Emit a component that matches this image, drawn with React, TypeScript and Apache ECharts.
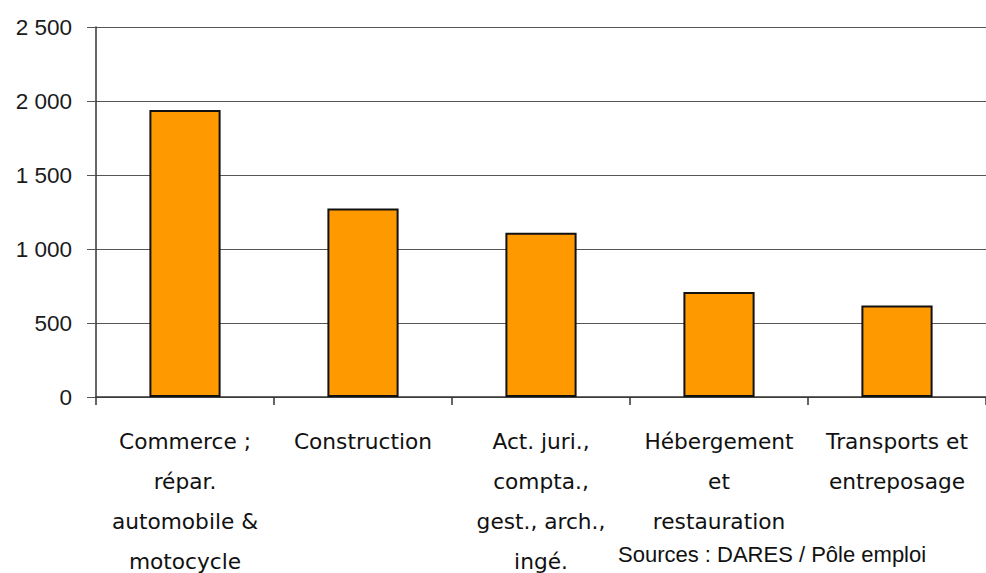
import React, { useEffect, useRef } from "react";
import * as echarts from "echarts";

const categories = [
  "Commerce ;\nrépar.\nautomobile &\nmotocycle",
  "Construction",
  "Act. juri.,\ncompta.,\ngest., arch.,\ningé.",
  "Hébergement\net\nrestauration",
  "Transports et\nentreposage",
];
const values = [1940, 1274, 1110, 710, 618];
const yTicks = { min: 0, max: 2500, interval: 500 };
const sourceText = "Sources : DARES / Pôle emploi";

function fmt(v: number): string {
  return String(v).replace(/\B(?=(\d{3})+(?!\d))/g, " ");
}

export default function App() {
  const ref = useRef<HTMLDivElement>(null);
  useEffect(() => {
    if (!ref.current) return;
    const chart = echarts.init(ref.current, null, { renderer: "svg" });
    chart.setOption({
      animation: false,
      backgroundColor: "#ffffff",
      grid: {
        left: 96,
        right: 0,
        top: 27,
        bottom: 176,
        containLabel: false,
        outerBoundsMode: "none",
      },
      xAxis: {
        type: "category",
        data: categories,
        boundaryGap: true,
        axisLine: { show: true, lineStyle: { color: "#333333", width: 1.5 } },
        axisTick: { show: true, length: 8, lineStyle: { color: "#333333", width: 1.5 } },
        axisLabel: {
          interval: 0,
          margin: 24,
          color: "#111111",
          fontFamily: "DejaVu Sans",
          fontSize: 21.7,
          lineHeight: 40,
        },
      },
      yAxis: {
        type: "value",
        min: yTicks.min,
        max: yTicks.max,
        interval: yTicks.interval,
        axisLine: { show: true, lineStyle: { color: "#333333", width: 1.5 } },
        axisTick: { show: true, length: 9, lineStyle: { color: "#555555" } },
        splitLine: { show: true, lineStyle: { color: "#555555", width: 1.2 } },
        axisLabel: {
          margin: 24,
          color: "#1a1a1a",
          fontFamily: "Liberation Sans",
          fontSize: 22.5,
          formatter: (v: number) => fmt(v),
        },
      },
      series: [
        {
          type: "bar",
          data: values,
          barWidth: "40%",
          itemStyle: { color: "#FF9900", borderColor: "#111111", borderWidth: 2 },
        },
      ],
      graphic: [
        {
          type: "text",
          left: 618,
          top: 543,
          style: {
            text: sourceText,
            fill: "#111111",
            font: "22px 'Liberation Sans'",
          },
        },
      ],
    });
    return () => chart.dispose();
  }, []);
  return (
    <div
      ref={ref}
      style={{ position: "absolute", left: 0, top: 0, width: 986, height: 573 }}
    />
  );
}
